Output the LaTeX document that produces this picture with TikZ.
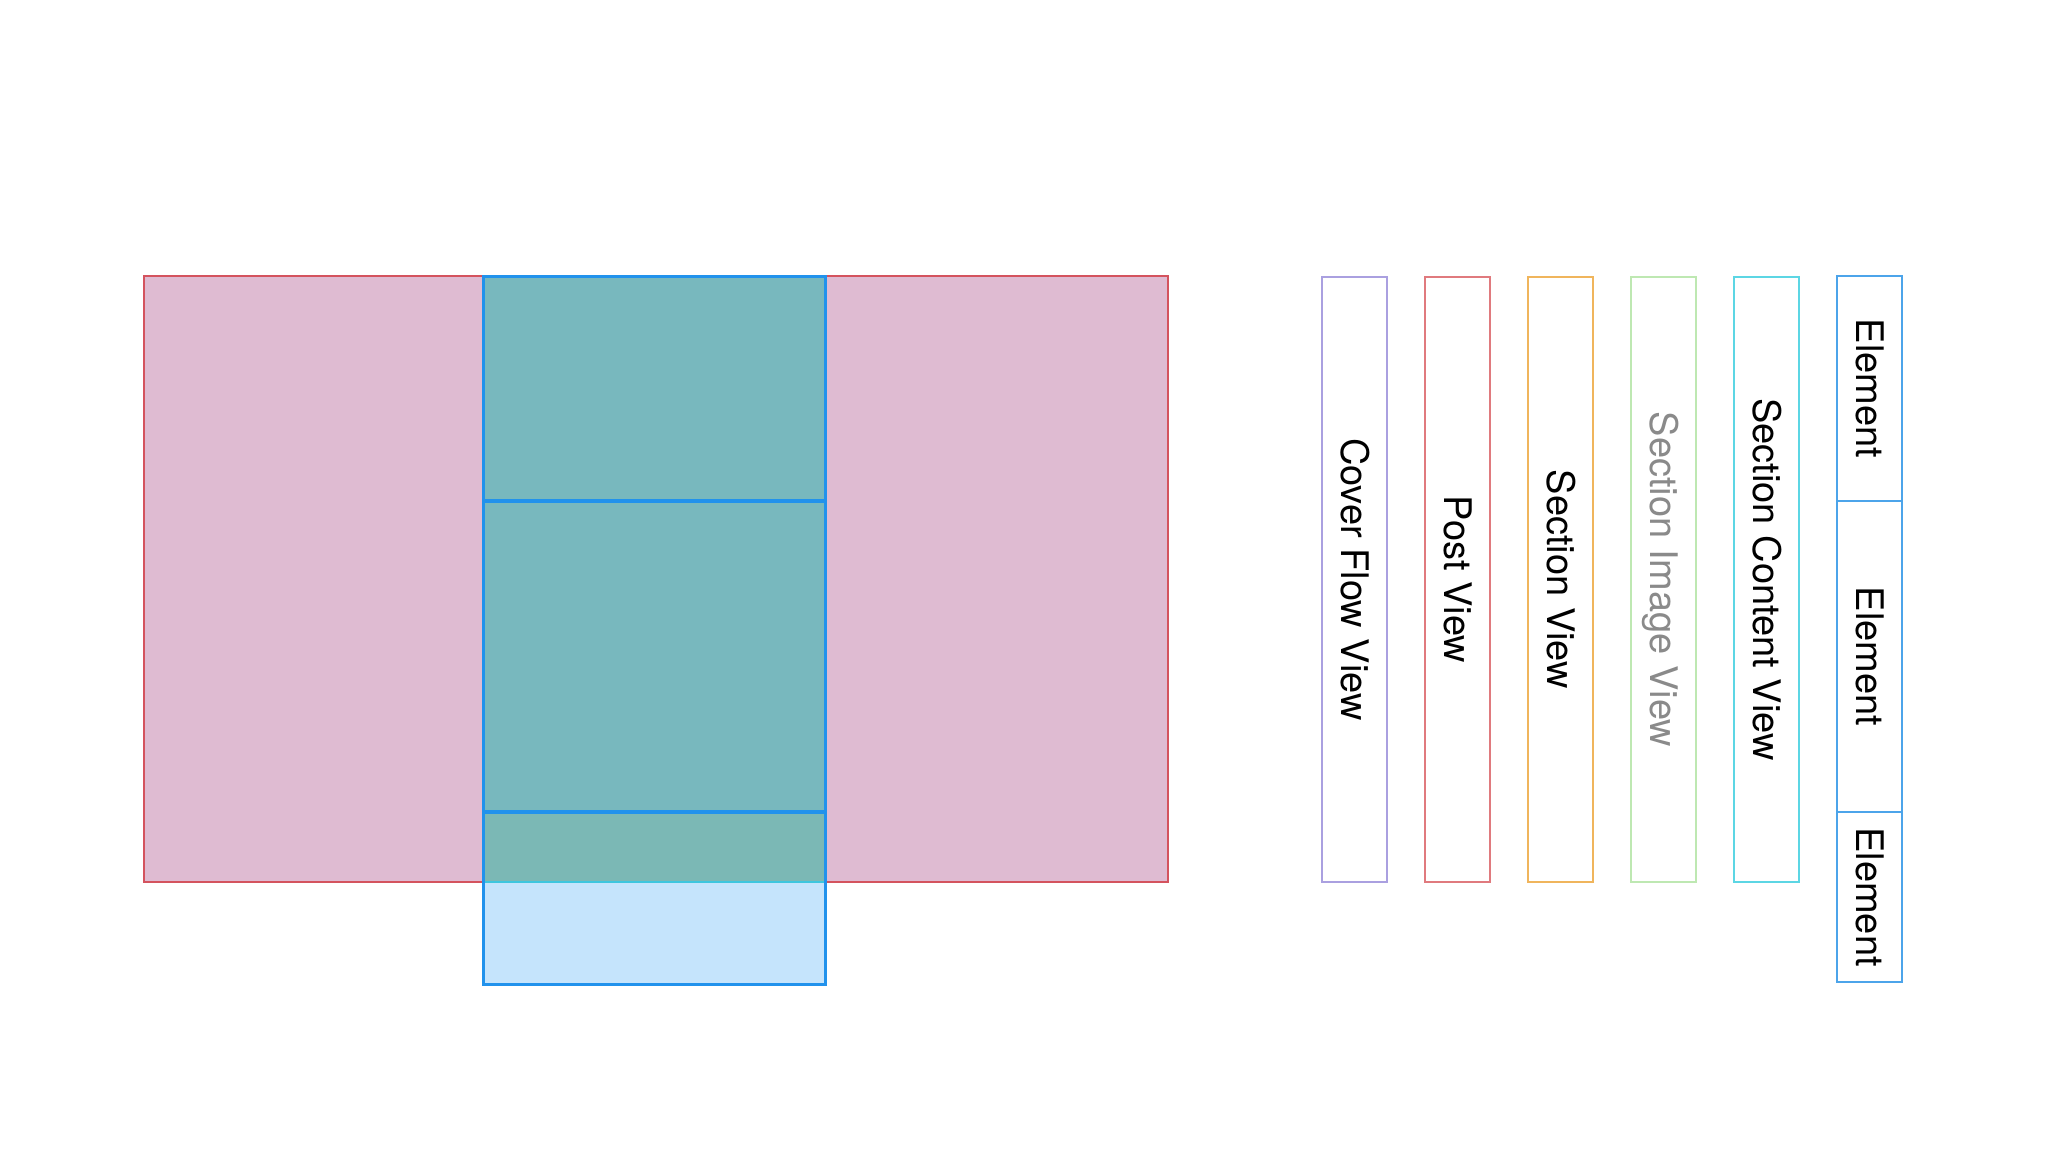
\documentclass[tikz,border=0pt]{standalone}
\usepackage{fontspec}
\setmainfont{TeX Gyre Heros}
\definecolor{pinkfill}{HTML}{DFBBD2}
\definecolor{redline}{HTML}{D4535E}
\definecolor{tealfill}{HTML}{78B8BE}
\definecolor{tealfillb}{HTML}{7BB8B5}
\definecolor{lightbluefill}{HTML}{C5E4FC}
\definecolor{blueline}{HTML}{2192EC}
\definecolor{cyanline}{HTML}{3EC6DE}
\definecolor{cpurple}{HTML}{AAA0E0}
\definecolor{cred}{HTML}{E07A7E}
\definecolor{corange}{HTML}{F0B55C}
\definecolor{cgreen}{HTML}{BEE8B2}
\definecolor{ccyan}{HTML}{5CD6E4}
\definecolor{cblue}{HTML}{4CA4EA}
\definecolor{graytext}{HTML}{8A8A8A}
\begin{document}
\begin{tikzpicture}[x=1pt,y=-1pt,
  col/.style={draw=#1, line width=2pt, fill=white, rotate=-90,
    minimum height=65pt, inner sep=0pt,
    font=\fontsize{38}{44}\selectfont, text height=27pt, text depth=0pt},
  colw/.style={minimum width=#1}]
\useasboundingbox[fill=white] (0,0) rectangle (2048,1152);
% left and right pink panels
\path[fill=pinkfill, draw=redline, line width=2pt] (144,276) rectangle (483,882);
\path[fill=pinkfill, draw=redline, line width=2pt] (826,276) rectangle (1168,882);
% central column
\path[fill=tealfill] (483,276) rectangle (825,812);
\path[fill=tealfillb] (483,812) rectangle (825,882);
\path[fill=lightbluefill] (483,882) rectangle (825,984);
\draw[cyanline, line width=2pt] (484,882) -- (824,882);
\draw[blueline, line width=3pt] (483,276) rectangle (825,984);
\draw[blueline, line width=3.5pt] (483,501) -- (825,501);
\draw[blueline, line width=3.5pt] (483,812) -- (825,812);
% legend columns
\node[col=cpurple, colw=605pt] (cover) at (1354.5,579.5) {Cover Flow View};
\node[col=cred, colw=605pt] (post) at (1457.5,579.5) {Post View};
\node[col=corange, colw=605pt] (section) at (1560.5,579.5) {Section View};
\node[col=cgreen, colw=605pt, text=graytext] (sectionimage) at (1663.5,579.5) {Section Image View};
\node[col=ccyan, colw=605pt] (sectioncontent) at (1766.5,579.5) {Section Content View};
\node[col=cblue, colw=225pt] (elemA) at (1869.5,388.5) {Element};
\node[col=cblue, colw=311pt] (elemB) at (1869.5,656.5) {Element};
\node[col=cblue, colw=170pt] (elemC) at (1869.5,897) {Element};
\end{tikzpicture}
\end{document}
